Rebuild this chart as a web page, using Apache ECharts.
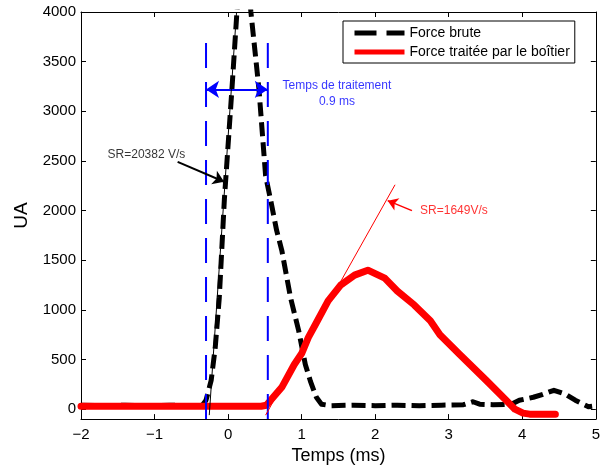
<!DOCTYPE html>
<html>
<head>
<meta charset="utf-8">
<script src="https://cdn.jsdelivr.net/npm/echarts@6/dist/echarts.min.js"></script>
<style>
html,body{margin:0;padding:0;background:#fff;}
#chart{width:603px;height:470px;}
</style>
</head>
<body>
<div id="chart"></div>
<script>
// ---- data ----
const xTickValues = [-2, -1, 0, 1, 2, 3, 4, 5];
const yTickValues = [0, 500, 1000, 1500, 2000, 2500, 3000, 3500, 4000];

const seriesNames = ['Force brute', 'Force traitée par le boîtier'];

const forceBrute = [
  [-2, 40], [-1.7, 35], [-1.4, 40], [-1.1, 35], [-0.8, 40], [-0.5, 35], [-0.35, 40],
  [-0.3, 90], [-0.23, 290], [-0.175, 620], [-0.12, 1120], [-0.05, 2120], [0.05, 3200],
  [0.12, 4000], [0.18, 4500], [0.25, 4550], [0.31, 4000], [0.42, 3220], [0.51, 2350],
  [0.58, 2100], [0.66, 1800], [0.73, 1600], [0.85, 1120], [0.96, 790], [1.05, 450],
  [1.12, 280], [1.2, 120], [1.27, 50], [1.4, 35], [1.7, 40], [2.0, 35], [2.3, 40],
  [2.6, 35], [2.9, 40], [3.2, 45], [3.33, 75], [3.42, 50], [3.6, 45], [3.85, 50],
  [3.96, 90], [4.15, 120], [4.28, 150], [4.43, 190], [4.59, 150], [4.72, 90],
  [4.9, 25], [4.95, 30]
];

const forceTraitee = [
  [-2, 30], [-1.5, 30], [-1, 30], [-0.5, 30], [0, 30], [0.45, 30], [0.52, 40],
  [0.73, 220], [0.9, 450], [1.0, 560], [1.09, 720], [1.2, 870], [1.36, 1090],
  [1.53, 1250], [1.72, 1350], [1.9, 1400], [2.13, 1320], [2.3, 1190], [2.53, 1050],
  [2.75, 890], [2.88, 750], [3.15, 550], [3.51, 290], [3.78, 90], [3.9, 0],
  [4.01, -40], [4.1, -50], [4.45, -50]
];

// tangent (slew rate) lines
const tangentBrute = [[-0.256, -60], [0.115, 4000]];
const tangentTraitee = [[0.51, -60], [2.27, 2260]];

// processing-time markers
const procStart = -0.30;
const procEnd = 0.54;
const procLineRange = [-100, 3800];
const procArrowY = 3220;

// annotation texts [x, y, text]
const annotBlack = [-1.11, 2560, 'SR=20382 V/s'];
const annotBlue = [1.48, 3180, 'Temps de traitement\n0.9 ms'];
const annotRed = [3.07, 2000, 'SR=1649V/s'];

// annotation arrows [[x0,y0],[x1,y1]]
const arrowBlack = [[-0.686, 2490], [-0.054, 2290]];
const arrowRed = [[2.50, 2000], [2.17, 2100]];

// ---- chart ----
const FONT = '"Liberation Sans", Arial, Helvetica, sans-serif';
const chart = echarts.init(document.getElementById('chart'), null, {renderer: 'canvas'});

function vline(x) {
  return [[x, procLineRange[0]], [x, procLineRange[1]]];
}

const option = {
  animation: false,
  backgroundColor: '#fff',
  textStyle: {fontFamily: FONT},
  grid: {left: 81, right: 2, top: 12, bottom: 48, show: false},
  legend: {
    show: true,
    orient: 'vertical',
    left: 343,
    top: 21,
    padding: [5, 5, 4, 9],
    itemWidth: 50,
    itemHeight: 14,
    itemGap: 5,
    backgroundColor: '#fff',
    borderColor: '#000',
    borderWidth: 1,
    borderRadius: 0,
    textStyle: {fontFamily: FONT, fontSize: 14, color: '#000'},
    itemStyle: {opacity: 0},
    lineStyle: {width: 5, cap: 'butt'},
    data: [
      {name: seriesNames[0], itemStyle: {opacity: 0}, lineStyle: {width: 5, type: [22, 10], color: '#000', cap: 'butt'}},
      {name: seriesNames[1], itemStyle: {opacity: 0}, lineStyle: {width: 5, type: 'solid', color: '#ff0000', cap: 'butt'}}
    ],
    selectedMode: false
  },
  xAxis: [
    {
      type: 'value', min: -2, max: 5, interval: 1,
      name: 'Temps (ms)', nameLocation: 'middle', nameGap: 26,
      nameTextStyle: {fontFamily: FONT, fontSize: 18, color: '#000'},
      axisLine: {show: true, onZero: false, lineStyle: {color: '#000', width: 1}},
      axisTick: {show: true, inside: true, length: 5, lineStyle: {color: '#000'}},
      axisLabel: {
        show: true, margin: 8, fontFamily: FONT, fontSize: 15, color: '#000',
        formatter: v => String(v).replace('-', '\u2212')
      },
      splitLine: {show: false}
    },
    {
      type: 'value', min: -2, max: 5, interval: 1, position: 'top',
      axisLine: {show: true, onZero: false, lineStyle: {color: '#000', width: 1}},
      axisTick: {show: true, inside: true, length: 5, lineStyle: {color: '#000'}},
      axisLabel: {show: false},
      splitLine: {show: false}
    }
  ],
  yAxis: [
    {
      type: 'value', min: -100, max: 4000,
      name: 'UA', nameLocation: 'middle', nameGap: 47,
      nameTextStyle: {fontFamily: FONT, fontSize: 19, color: '#000'},
      axisLine: {show: true, onZero: false, lineStyle: {color: '#000', width: 1}},
      axisTick: {show: true, inside: true, length: 5, customValues: yTickValues, lineStyle: {color: '#000'}},
      axisLabel: {
        show: true, margin: 5, fontFamily: FONT, fontSize: 15, color: '#000',
        customValues: yTickValues, formatter: v => String(v)
      },
      splitLine: {show: false}
    },
    {
      type: 'value', min: -100, max: 4000, position: 'right',
      axisLine: {show: true, onZero: false, lineStyle: {color: '#000', width: 1}},
      axisTick: {show: true, inside: true, length: 5, customValues: yTickValues, lineStyle: {color: '#000'}},
      axisLabel: {show: false, customValues: yTickValues},
      splitLine: {show: false}
    }
  ],
  series: [
    {
      name: seriesNames[0], type: 'line', data: forceBrute,
      symbol: 'none', silent: true, z: 2,
      lineStyle: {color: '#000', width: 5, type: [14, 6], cap: 'butt', join: 'round'},
      itemStyle: {color: '#000'}
    },
    {
      name: seriesNames[1], type: 'line', data: forceTraitee,
      symbol: 'none', silent: true, z: 3,
      lineStyle: {color: '#ff0000', width: 7, type: 'solid', cap: 'round', join: 'round'},
      itemStyle: {color: '#ff0000'}
    },
    {
      name: 'procStart', type: 'line', data: vline(procStart), symbol: 'none', silent: true, z: 4,
      lineStyle: {color: '#0000ff', width: 2, type: [25, 14], cap: 'butt'}
    },
    {
      name: 'procEnd', type: 'line', data: vline(procEnd), symbol: 'none', silent: true, z: 4,
      lineStyle: {color: '#0000ff', width: 2, type: [25, 14], cap: 'butt'}
    },
    {
      name: 'tangentBrute', type: 'line', data: tangentBrute, symbol: 'none', silent: true, z: 5,
      lineStyle: {color: '#000', width: 1}
    },
    {
      name: 'tangentTraitee', type: 'line', data: tangentTraitee, symbol: 'none', silent: true, z: 5,
      lineStyle: {color: '#ff0000', width: 1}
    },
    {
      name: 'annotations', type: 'scatter', silent: true, z: 6,
      symbol: 'circle', symbolSize: 0,
      data: [
        {value: [annotBlack[0], annotBlack[1]], name: annotBlack[2], label: {color: '#000'}},
        {value: [annotBlue[0], annotBlue[1]], name: annotBlue[2], label: {color: '#0000ff', lineHeight: 16}},
        {value: [annotRed[0], annotRed[1]], name: annotRed[2], label: {color: '#ff0000'}}
      ],
      label: {
        show: true, position: [0, 0], align: 'center', verticalAlign: 'middle',
        fontFamily: FONT, fontSize: 12, formatter: p => p.name
      },
      markLine: {
        silent: true, animation: false,
        label: {show: false},
        emphasis: {disabled: true},
        data: [
          [
            {coord: arrowBlack[0], symbol: 'none', lineStyle: {color: '#000', width: 2, type: 'solid'}},
            {coord: arrowBlack[1], symbol: 'arrow', symbolSize: 11}
          ],
          [
            {coord: arrowRed[0], symbol: 'none', lineStyle: {color: '#ff0000', width: 1.5, type: 'solid'}},
            {coord: arrowRed[1], symbol: 'arrow', symbolSize: 10}
          ],
          [
            {coord: [procStart, procArrowY], symbol: 'arrow', symbolSize: 13, lineStyle: {color: '#0000ff', width: 2, type: 'solid'}},
            {coord: [procEnd, procArrowY], symbol: 'arrow', symbolSize: 13}
          ]
        ]
      }
    }
  ]
};
chart.setOption(option);
</script>
</body>
</html>
